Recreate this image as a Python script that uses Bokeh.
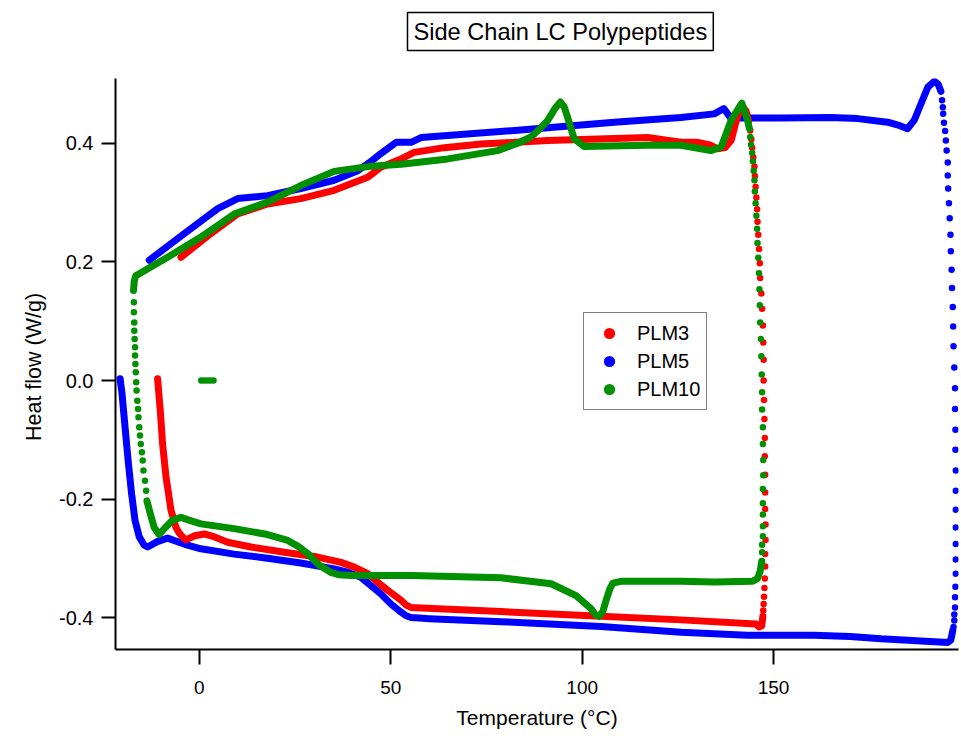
from bokeh.plotting import figure
from bokeh.models import Range1d, FixedTicker, NumeralTickFormatter, Legend, LegendItem, Title
from bokeh.embed import file_html
from bokeh.resources import INLINE

# ---------------- data (Temperature in degC, Heat flow in W/g) ----------------
x_ticks = [0, 50, 100, 150]
y_ticks = [-0.4, -0.2, 0.0, 0.2, 0.4]

# PLM3 (red)
plm3_top_T = [-4.8, 3.0, 10.0, 17.8, 26.5, 35.2, 44.0, 47.4, 52.7, 56.1, 64.0, 73.6, 91.0, 117.1,
              125.8, 130.2, 133.6, 135.4, 137.3, 138.9, 140.3, 141.7, 142.8, 143.5]
plm3_top_H = [0.208, 0.248, 0.281, 0.298, 0.307, 0.321, 0.343, 0.360, 0.374, 0.385, 0.393, 0.399, 0.405, 0.410,
              0.402, 0.402, 0.397, 0.391, 0.393, 0.405, 0.440, 0.464, 0.455, 0.438]
plm3_ramp_T = [143.9, 144.2, 144.4, 144.7, 145.0, 145.1, 145.3, 145.5, 145.7, 145.8, 146.0, 146.2, 146.4,
               146.5, 146.8, 147.0, 147.2, 147.3, 147.4, 147.4, 147.5, 147.6, 147.7, 147.7, 147.8, 147.8,
               147.8, 147.9, 147.9, 147.8, 147.8, 147.7, 147.6, 147.5, 147.4, 147.3]
plm3_ramp_H = [0.422, 0.407, 0.393, 0.377, 0.361, 0.345, 0.327, 0.309, 0.289, 0.268, 0.246, 0.222, 0.198,
               0.173, 0.147, 0.121, 0.093, 0.064, 0.035, 0.000, -0.033, -0.065, -0.097, -0.128, -0.159, -0.189,
               -0.217, -0.243, -0.269, -0.293, -0.314, -0.334, -0.350, -0.365, -0.377, -0.388]
plm3_bot_T = [147.2, 146.9, 146.2, 145.4, 125.8, 104.9, 78.8, 58.0, 55.3, 54.0, 52.7, 49.2, 46.5, 44.0,
              40.5, 37.0, 30.9, 22.2, 13.5, 7.4, 3.5, 1.3, -1.2, -3.5, -4.4, -5.3, -6.1, -7.4, -8.7, -9.6,
              -10.2, -10.9]
plm3_bot_H = [-0.398, -0.414, -0.416, -0.411, -0.404, -0.398, -0.390, -0.384, -0.383, -0.379, -0.371,
              -0.354, -0.340, -0.326, -0.315, -0.307, -0.298, -0.290, -0.281, -0.273, -0.263, -0.259, -0.262,
              -0.269, -0.264, -0.257, -0.248, -0.219, -0.163, -0.107, -0.051, 0.003]

# PLM5 (blue)
plm5_top_T = [-13.1, -3.9, 4.8, 10.0, 17.8, 26.5, 35.2, 41.4, 44.5, 47.4, 51.4, 55.3, 57.9, 82.3, 108.4,
              125.8, 134.5, 137.0, 138.9, 141.5, 151.9, 165.0, 172.0, 179.8, 183.0, 185.0, 186.8, 188.5,
              190.3, 192.0, 193.0, 193.7]
plm5_top_H = [0.203, 0.248, 0.290, 0.307, 0.312, 0.324, 0.338, 0.354, 0.368, 0.383, 0.402, 0.402, 0.410,
              0.422, 0.436, 0.444, 0.450, 0.459, 0.442, 0.443, 0.443, 0.444, 0.442, 0.436, 0.430, 0.425,
              0.440, 0.467, 0.495, 0.505, 0.500, 0.488]
plm5_ramp_T = [194.0, 194.2, 194.3, 194.5, 194.8, 195.0, 195.2, 195.5, 195.5, 195.6, 195.8, 196.0, 196.2,
               196.3, 196.5, 196.6, 196.8, 196.9, 197.0, 197.2, 197.4, 197.4, 197.5, 197.5, 197.6, 197.6,
               197.6, 197.6, 197.6, 197.6, 197.6, 197.5, 197.4, 197.4, 197.2, 197.2, 197.0]
plm5_ramp_H = [0.473, 0.461, 0.450, 0.435, 0.421, 0.405, 0.388, 0.368, 0.346, 0.324, 0.299, 0.274, 0.246,
               0.218, 0.187, 0.156, 0.124, 0.091, 0.058, 0.022, -0.013, -0.048, -0.083, -0.117, -0.152,
               -0.186, -0.218, -0.248, -0.276, -0.302, -0.326, -0.348, -0.366, -0.383, -0.395, -0.405, -0.416]
plm5_bot_T = [196.8, 196.3, 195.5, 178.1, 170.0, 160.6, 143.2, 125.8, 104.9, 78.8, 60.0, 57.5, 55.3, 54.0,
              52.7, 50.0, 47.4, 42.2, 38.5, 35.2, 26.5, 17.8, 9.1, 0.4, -3.1, -8.3, -11.0, -13.5, -14.4,
              -15.7, -16.8, -17.7, -18.6, -19.4, -20.2, -20.7]
plm5_bot_H = [-0.422, -0.438, -0.442, -0.436, -0.432, -0.430, -0.430, -0.425, -0.415, -0.407, -0.402,
              -0.401, -0.400, -0.397, -0.391, -0.377, -0.360, -0.332, -0.323, -0.318, -0.308, -0.300, -0.293,
              -0.284, -0.278, -0.266, -0.272, -0.281, -0.278, -0.264, -0.236, -0.191, -0.135, -0.079, -0.022,
              0.003]

# PLM10 (green)
plm10_spot_T = [0.5, 1.3, 2.1, 2.9, 3.7]
plm10_spot_H = [0.000, 0.000, 0.000, 0.000, 0.000]
plm10_left_T = [-17.1, -17.1, -17.0, -17.0, -16.9, -16.8, -16.8, -16.7, -16.6, -16.5, -16.4, -16.2, -16.0,
                -15.9, -15.7, -15.5, -15.3, -15.0, -14.8, -14.6, -14.2, -13.9]
plm10_left_H = [0.132, 0.115, 0.098, 0.084, 0.070, 0.056, 0.042, 0.028, 0.014, -0.003, -0.017, -0.034,
                -0.048, -0.062, -0.079, -0.093, -0.107, -0.121, -0.135, -0.152, -0.169, -0.186]
plm10_top_T = [-17.2, -17.0, -16.6, -15.7, -8.3, 0.4, 9.1, 17.8, 26.5, 35.2, 44.0, 52.7, 64.9, 77.9, 83.0,
               86.6, 89.0, 91.0, 93.0, 94.3, 95.3, 96.2, 97.9, 100.5, 117.1, 125.8, 133.6, 136.3, 138.9,
               141.7, 143.2, 143.7]
plm10_top_H = [0.152, 0.168, 0.177, 0.180, 0.208, 0.242, 0.281, 0.301, 0.329, 0.353, 0.361, 0.365, 0.374,
               0.388, 0.400, 0.411, 0.425, 0.439, 0.460, 0.470, 0.462, 0.444, 0.408, 0.395, 0.397, 0.397,
               0.388, 0.394, 0.439, 0.468, 0.439, 0.425]
plm10_ramp_T = [143.9, 144.1, 144.4, 144.6, 144.8, 145.0, 145.1, 145.3, 145.5, 145.7, 145.8, 146.0, 146.2,
                146.3, 146.4, 146.5, 146.7, 146.8, 146.9, 147.0, 147.0, 147.2, 147.2, 147.3, 147.3, 147.2,
                147.2, 147.2, 147.2, 147.2, 147.0, 147.0]
plm10_ramp_H = [0.411, 0.398, 0.384, 0.370, 0.354, 0.338, 0.319, 0.299, 0.278, 0.256, 0.232, 0.207, 0.181,
                0.154, 0.127, 0.098, 0.070, 0.041, 0.010, -0.020, -0.049, -0.079, -0.107, -0.134, -0.160,
                -0.183, -0.207, -0.226, -0.246, -0.263, -0.277, -0.290]
plm10_bot_T = [146.9, 146.5, 145.8, 144.5, 134.5, 125.8, 110.1, 108.0, 107.2, 106.3, 105.4, 104.4, 103.4,
               102.3, 98.4, 91.9, 78.8, 55.3, 39.6, 36.5, 34.4, 31.0, 28.3, 25.8, 23.1, 17.8, 9.1, 0.4, -2.5,
               -4.8, -7.0, -9.0, -10.5, -11.8, -12.8, -13.7]
plm10_bot_H = [-0.305, -0.322, -0.334, -0.339, -0.340, -0.339, -0.339, -0.342, -0.352, -0.370, -0.390,
               -0.398, -0.395, -0.385, -0.363, -0.343, -0.333, -0.329, -0.329, -0.328, -0.324, -0.310, -0.292,
               -0.280, -0.270, -0.260, -0.250, -0.242, -0.236, -0.231, -0.236, -0.249, -0.260, -0.248, -0.225,
               -0.203]

series_names = ["PLM3", "PLM5", "PLM10"]
RED, BLUE, GREEN = "#ff0000", "#0000ff", "#009000"
FONT = "Liberation Sans"

# ---------------- figure ----------------
p = figure(width=960, height=735, output_backend="svg", toolbar_location=None,
           x_range=Range1d(-21.9, 198.3), y_range=Range1d(-0.454, 0.5097),
           min_border_left=115, min_border_right=2, min_border_top=78, min_border_bottom=86)
p.outline_line_color = None
p.grid.visible = False
p.background_fill_color = "white"
p.border_fill_color = "white"

LW = 7
DS = 6.5

def dense(T, H, c):
    p.line(T, H, line_width=LW, line_color=c, line_cap="round", line_join="round")

def dots(T, H, c):
    p.scatter(T, H, size=DS, fill_color=c, line_color=None)

# blue first, then red, then green on top
dense(plm5_top_T, plm5_top_H, BLUE)
dots(plm5_ramp_T, plm5_ramp_H, BLUE)
dense(plm5_bot_T, plm5_bot_H, BLUE)

dense(plm3_top_T, plm3_top_H, RED)
dots(plm3_ramp_T, plm3_ramp_H, RED)
dense(plm3_bot_T, plm3_bot_H, RED)

dots(plm10_spot_T, plm10_spot_H, GREEN)
dense(plm10_top_T, plm10_top_H, GREEN)
dots(plm10_left_T, plm10_left_H, GREEN)
dots(plm10_ramp_T, plm10_ramp_H, GREEN)
dense(plm10_bot_T, plm10_bot_H, GREEN)

# axes
for ax in (p.xaxis[0], p.yaxis[0]):
    ax.axis_line_width = 2
    ax.axis_line_color = "black"
    ax.major_tick_line_width = 2
    ax.major_tick_line_color = "black"
    ax.major_tick_in = 0
    ax.minor_tick_line_color = None
    ax.major_label_text_font = FONT
    ax.major_label_text_color = "black"
    ax.axis_label_text_font = FONT
    ax.axis_label_text_font_style = "normal"
    ax.axis_label_text_color = "black"

p.xaxis.ticker = FixedTicker(ticks=x_ticks)
p.xaxis.major_tick_out = 15
p.xaxis.major_label_text_font_size = "19px"
p.xaxis.major_label_standoff = 16
p.xaxis.axis_label = "Temperature (°C)"
p.xaxis.axis_label_text_font_size = "21px"
p.xaxis.axis_label_standoff = 9

p.yaxis.ticker = FixedTicker(ticks=y_ticks)
p.yaxis.formatter = NumeralTickFormatter(format="0.0")
p.yaxis.major_tick_out = 14
p.yaxis.major_label_text_font_size = "20px"
p.yaxis.major_label_standoff = 8
p.yaxis.axis_label = "Heat flow  (W/g)"
p.yaxis.axis_label_text_font_size = "21.5px"
p.yaxis.axis_label_standoff = 10

# legend (marker renderers with a single NaN point, used only for the legend swatches)
nan = float("nan")
leg_items = []
for name, c in zip(series_names, [RED, BLUE, GREEN]):
    r = p.scatter([nan], [nan], size=12, fill_color=c, line_color=None)
    leg_items.append(LegendItem(label=name, renderers=[r]))
legend = Legend(items=leg_items, location=(468, 239), orientation="vertical",
                label_text_font=FONT, label_text_font_size="20px", label_text_color="black",
                glyph_width=38, glyph_height=28, label_height=28, label_standoff=9,
                padding=6, spacing=0, margin=0,
                border_line_color="black", border_line_width=1.5,
                background_fill_color="white", background_fill_alpha=1.0)
p.add_layout(legend, "center")

# boxed title, lifted away from the frame by an empty spacer title
p.title.text = "Side Chain LC Polypeptides"
p.title.text_font = FONT
p.title.text_font_size = "23.6px"
p.title.text_font_style = "normal"
p.title.text_color = "black"
p.title.align = "left"
p.title.offset = 292
p.title.vertical_align = "top"
p.title.standoff = 0
p.title.border_line_color = "black"
p.title.border_line_width = 1.5
p.title.background_fill_color = "white"
p.title.padding = 6

spacer = Title(text=" ", text_font_size="2px", standoff=22, text_color="white")
p.add_layout(spacer, "above")

open("out.html", "w").write(file_html(p, INLINE))
